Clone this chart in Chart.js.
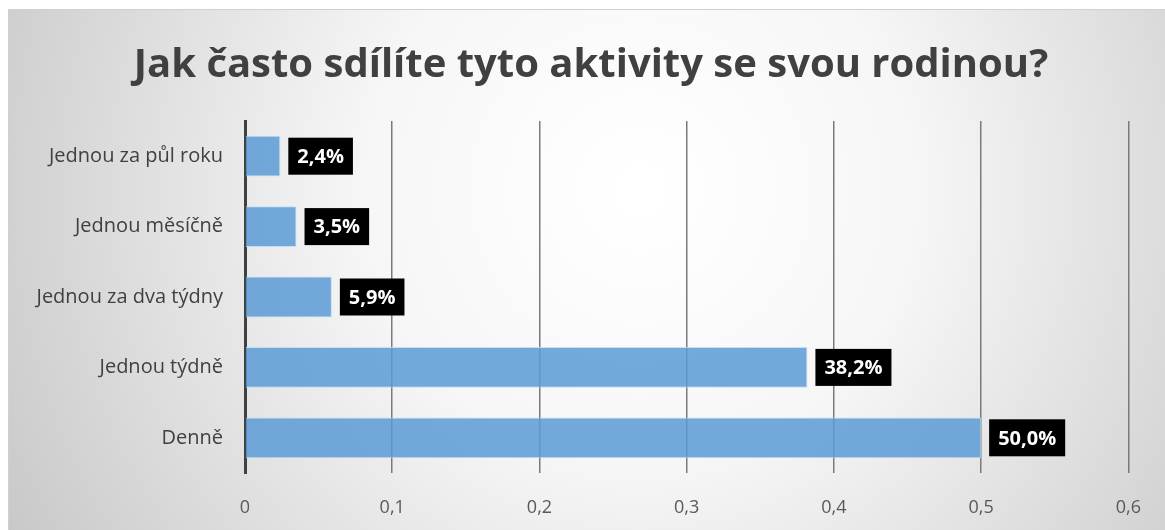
<!DOCTYPE html>
<html>
<head>
<meta charset="utf-8">
<script src="https://cdn.jsdelivr.net/npm/chart.js@4/dist/chart.umd.min.js"></script>
<style>
  html, body { margin: 0; padding: 0; background: #fff; }
  #wrap { width: 1165px; height: 530px; }
</style>
</head>
<body>
<div id="wrap"><canvas id="freqChart" width="1165" height="530"></canvas></div>
<script>
const chartTitle = "Jak často sdílíte tyto aktivity se svou rodinou?";
const categories = ["Jednou za půl roku", "Jednou měsíčně", "Jednou za dva týdny", "Jednou týdně", "Denně"];
const shares = [0.024, 0.035, 0.059, 0.382, 0.5];
const tickLabels = ["0", "0,1", "0,2", "0,3", "0,4", "0,5", "0,6"];

const FONT = "'Open Sans', 'Noto Sans', sans-serif";

// background gradient + frame + title (title sits centred on the whole frame)
const bgPlugin = {
  id: "bg",
  beforeDraw(chart) {
    const ctx = chart.ctx;
    ctx.save();
    ctx.fillStyle = "#fff";
    ctx.fillRect(0, 0, chart.width, chart.height);
    const g = ctx.createRadialGradient(640, 190, 20, 640, 190, 760);
    g.addColorStop(0, "#ffffff");
    g.addColorStop(0.35, "#f6f6f6");
    g.addColorStop(1, "#c4c4c4");
    ctx.fillStyle = g;
    ctx.fillRect(8, 9, chart.width - 8, chart.height - 9);
    ctx.strokeStyle = "#d0d0d0";
    ctx.lineWidth = 1;
    ctx.strokeRect(8.5, 9.5, chart.width, chart.height);

    ctx.fillStyle = "#404040";
    ctx.font = "bold 40px " + FONT;
    ctx.textAlign = "center";
    ctx.textBaseline = "middle";
    ctx.fillText(chartTitle, 591, 66);
    ctx.restore();
  }
};

// black boxes with percentage next to each bar
const labelPlugin = {
  id: "boxLabels",
  afterDatasetsDraw(chart) {
    const ctx = chart.ctx;
    const meta = chart.getDatasetMeta(0);
    ctx.save();
    ctx.font = "bold 20px " + FONT;
    ctx.textBaseline = "middle";
    meta.data.forEach((bar, i) => {
      const txt = (shares[i] * 100).toFixed(1).replace(".", ",") + "%";
      const w = ctx.measureText(txt).width + 18;
      const h = 37;
      const x0 = bar.x + 8;
      ctx.fillStyle = "#000";
      ctx.fillRect(x0, bar.y - h / 2, w, h);
      ctx.fillStyle = "#fff";
      ctx.textAlign = "left";
      ctx.fillText(txt, x0 + 9, bar.y + 1);
    });
    ctx.restore();
  }
};

new Chart(document.getElementById("freqChart").getContext("2d"), {
  type: "bar",
  data: {
    labels: categories,
    datasets: [
      {
        data: shares,
        backgroundColor: "rgba(91, 155, 213, 0.85)",
        borderColor: "rgba(190, 220, 245, 0.9)",
        borderWidth: 1,
        categoryPercentage: 0.58,
        barPercentage: 1,
      },
    ],
  },
  options: {
    indexAxis: "y",
    responsive: false,
    animation: false,
    layout: { padding: { left: 8, right: 35, top: 121, bottom: 0 } },
    plugins: {
      legend: { display: false },
      tooltip: { enabled: false },
      title: { display: false },
    },
    scales: {
      x: {
        min: 0,
        max: 0.6,
        ticks: {
          stepSize: 0.1,
          color: "#595959",
          font: { family: FONT, size: 18 },
          padding: 24,
          callback: (v, i) => tickLabels[i],
        },
        grid: { color: "#7a7a7a", lineWidth: 1.5, drawTicks: false },
        border: { display: false },
        afterFit(scale) { scale.height = 57; },
      },
      y: {
        ticks: {
          color: "#404040",
          font: { family: FONT, size: 20 },
          padding: 22,
        },
        grid: { display: false, drawTicks: false },
        border: { color: "#404040", width: 3 },
        afterFit(scale) { scale.width = 237; },
      },
    },
  },
  plugins: [bgPlugin, labelPlugin],
});
</script>
</body>
</html>
